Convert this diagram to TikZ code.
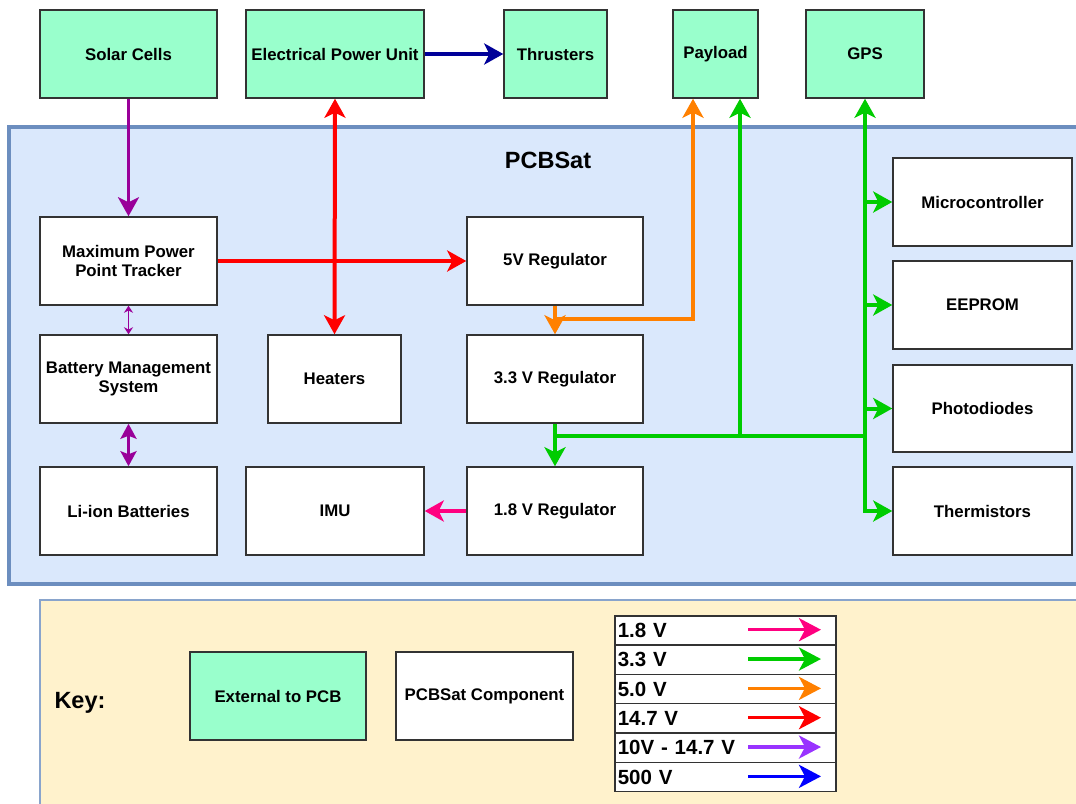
\documentclass[tikz,border=0pt]{standalone}
\usepackage{fontspec}
\setmainfont{Liberation Sans}
\usetikzlibrary{arrows.meta}
\definecolor{extgreen}{HTML}{99FFCC}
\definecolor{boxgray}{HTML}{333333}
\definecolor{satblue}{HTML}{DAE8FC}
\definecolor{satedge}{HTML}{6C8EBF}
\definecolor{keyyellow}{HTML}{FFF2CC}
\definecolor{wpurple}{HTML}{990099}
\definecolor{wred}{HTML}{FF0000}
\definecolor{worange}{HTML}{FF8000}
\definecolor{wgreen}{HTML}{00CC00}
\definecolor{wpink}{HTML}{FF0080}
\definecolor{wnavy}{HTML}{000099}
\definecolor{wviolet}{HTML}{9933FF}
\definecolor{wblue}{HTML}{0000FF}

\begin{document}
\begin{tikzpicture}[x=1pt, y=-1pt,
                    ext node/.style={rectangle,draw=boxgray,line width=1.5pt,fill=extgreen,
                      minimum height=88pt,inner sep=1pt,align=center,
                      font=\fontsize{16.8}{19.5}\selectfont\bfseries},
                    sat node/.style={ext node,fill=white},
                    big tip/.style={-{Stealth[length=19pt,width=21pt,inset=5pt]}},
                    both tip/.style={{Stealth[length=19pt,width=21pt,inset=5pt]}-{Stealth[length=19pt,width=21pt,inset=5pt]}},
                    wire/.style={line width=4pt}]

  \clip (0,0) rectangle (1076,803);
  \fill[white] (0,0) rectangle (1076,803);

  % board and key panels
  \draw[satedge,fill=satblue,line width=3.5pt] (9,127) rectangle (1095,584);
  \draw[satedge!80,fill=keyyellow,line width=1.5pt] (40,600) rectangle (1095,820);
  \node[font=\fontsize{23.5}{26}\selectfont\bfseries] (title) at (548,160) {PCBSat};

  % outside the board
  \node[ext node,minimum width=177pt] (solar) at (128.5,54) {Solar Cells};
  \node[ext node,minimum width=178pt] (epu) at (335,54) {Electrical Power Unit};
  \node[ext node,minimum width=103pt] (thrust) at (555.5,54) {Thrusters};
  \node[ext node,minimum width=85pt] (payload) at (715.5,54) {Payload};
  \node[ext node,minimum width=118pt] (gps) at (865,54) {GPS};

  % on the board
  \node[sat node,minimum width=177pt] (mppt) at (128.5,261) {Maximum Power\\Point Tracker};
  \node[sat node,minimum width=177pt] (bms) at (128.5,379) {Battery Management\\System};
  \node[sat node,minimum width=177pt] (liion) at (128.5,511) {Li-ion Batteries};
  \node[sat node,minimum width=133pt] (heat) at (334.5,379) {Heaters};
  \node[sat node,minimum width=178pt] (imu) at (335,511) {IMU};
  \node[sat node,minimum width=176pt] (reg5) at (555,261) {5V Regulator};
  \node[sat node,minimum width=176pt] (reg33) at (555,379) {3.3 V Regulator};
  \node[sat node,minimum width=176pt] (reg18) at (555,511) {1.8 V Regulator};
  \node[sat node,minimum width=179pt] (mcu) at (982.5,202) {Microcontroller};
  \node[sat node,minimum width=179pt] (eeprom) at (982.5,305) {EEPROM};
  \node[sat node,minimum width=179pt,minimum height=87pt] (photo) at (982.5,408.5) {Photodiodes};
  \node[sat node,minimum width=179pt] (therm) at (982.5,511) {Thermistors};

  \coordinate (obranch) at (555,319);
  \coordinate (gleft) at (555,436);
  \coordinate (gmid) at (740,436);
  \coordinate (gright) at (864,436);

\path[wire]
    (solar) edge[wpurple,line width=3pt,big tip] (mppt)
    (epu) edge[wnavy,big tip] (thrust)
    (epu.south) edge[wred,both tip] (heat.north)
    (mppt) edge[wred,big tip] (reg5)
    (mppt) edge[wpurple,line width=1.5pt,{Stealth[length=7pt,width=9pt]}-{Stealth[length=7pt,width=9pt]}] (bms)
    (bms) edge[wpurple,line width=3.5pt,{Stealth[length=15pt,width=16pt,inset=3pt]}-{Stealth[length=15pt,width=16pt,inset=3pt]}] (liion)
    (reg18) edge[wpink,line width=3.5pt,big tip] (imu)
    (reg5) edge[worange,big tip] (reg33)
    (reg33) edge[wgreen,big tip] (reg18)
   ;

  \draw[wire,worange,big tip] (reg5.south) -- (obranch) -| ([xshift=-22.5pt]payload.south);
  \draw[wire,wgreen] (gleft) -- (gright);
  \draw[wire,wgreen,big tip] (gmid) -- ([xshift=24.5pt]payload.south);
  \draw[wire,wgreen,both tip] (gps.south) -- (gps.south |- therm.west) -- (therm.west);
  \foreach \dest in {mcu,eeprom,photo}
    \draw[wire,wgreen,big tip] (gps.south |- \dest.west) -- (\dest.west);

  % key
  \node[font=\fontsize{23.5}{26}\selectfont\bfseries] (keylbl) at (80,703) {Key:};
  \node[ext node,minimum width=176pt] (keyext) at (278,696) {External to PCB};
  \node[sat node,minimum width=177pt] (keysat) at (484.5,696) {PCBSat Component};

  \foreach \lbl/\col [count=\i from 0] in {1.8 V/wpink,3.3 V/wgreen,5.0 V/worange,14.7 V/wred,10V - 14.7 V/wviolet,500 V/wblue}
  {
    \node[draw=boxgray,line width=1.5pt,fill=white,anchor=north west,minimum width=221pt,
          minimum height=29.33pt,text width=215pt,inner sep=1.5pt,align=left,
          font=\fontsize{20.5}{22}\selectfont\bfseries] (row\i) at (614,615+29.33*\i) {\lbl};
    \coordinate (rowa\i) at (748,629.7+29.33*\i);
    \coordinate (rowb\i) at (821,629.7+29.33*\i);
    \draw[\col,line width=3.5pt,-{Stealth[length=22pt,width=23pt,inset=6pt]}] (rowa\i) -- (rowb\i);
  }

\end{tikzpicture}
\end{document}
